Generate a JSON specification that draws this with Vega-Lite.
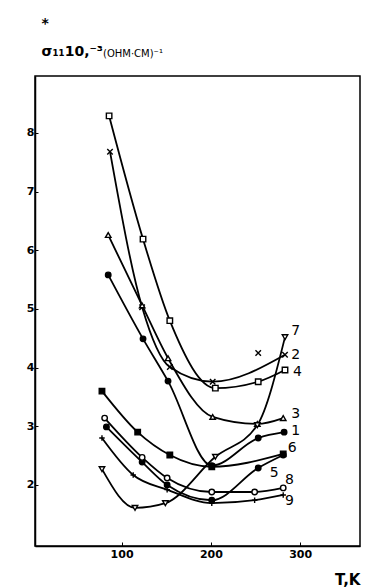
{
  "$schema": "https://vega.github.io/schema/vega-lite/v6.json",
  "autosize": {"type": "none"},
  "padding": {"left": 35, "top": 76, "right": 13, "bottom": 42},
  "width": 325,
  "height": 470,
  "background": "white",
  "config": {
    "view": {"stroke": "black", "strokeWidth": 1.5},
    "font": "DejaVu Sans",
    "axis": {"grid": false, "domainColor": "black", "domainWidth": 1.5, "tickColor": "black", "labelColor": "black", "titleColor": "black"}
  },
  "title": {
    "text": "(OHM·CM)⁻¹",
    "anchor": "start",
    "frame": "group",
    "dx": 68,
    "dy": 73,
    "offset": 20,
    "baseline": "bottom",
    "fontSize": 10,
    "fontWeight": "normal",
    "font": "DejaVu Sans",
    "color": "black"
  },
  "datasets": {
    "pts": [
      {"curve": "1", "T": 85, "s": 5.58, "fit": true},
      {"curve": "1", "T": 124, "s": 4.49, "fit": true},
      {"curve": "1", "T": 152, "s": 3.77, "fit": true},
      {"curve": "1", "T": 201, "s": 2.33, "fit": true},
      {"curve": "1", "T": 253, "s": 2.8, "fit": true},
      {"curve": "1", "T": 282, "s": 2.9, "fit": true},
      {"curve": "2", "T": 87, "s": 7.68, "fit": true},
      {"curve": "2", "T": 123, "s": 5.03, "fit": true},
      {"curve": "2", "T": 154, "s": 4.01, "fit": true},
      {"curve": "2", "T": 202, "s": 3.76, "fit": true},
      {"curve": "2", "T": 253, "s": 4.25, "fit": false},
      {"curve": "2", "T": 283, "s": 4.22, "fit": true},
      {"curve": "3", "T": 85, "s": 6.26, "fit": true},
      {"curve": "3", "T": 123, "s": 5.06, "fit": true},
      {"curve": "3", "T": 152, "s": 4.16, "fit": true},
      {"curve": "3", "T": 202, "s": 3.16, "fit": true},
      {"curve": "3", "T": 252, "s": 3.04, "fit": true},
      {"curve": "3", "T": 281, "s": 3.14, "fit": true},
      {"curve": "4", "T": 86, "s": 8.29, "fit": true},
      {"curve": "4", "T": 124, "s": 6.19, "fit": true},
      {"curve": "4", "T": 154, "s": 4.8, "fit": true},
      {"curve": "4", "T": 205, "s": 3.65, "fit": true},
      {"curve": "4", "T": 253, "s": 3.76, "fit": true},
      {"curve": "4", "T": 283, "s": 3.96, "fit": true},
      {"curve": "5", "T": 83, "s": 2.99, "fit": true},
      {"curve": "5", "T": 123, "s": 2.39, "fit": true},
      {"curve": "5", "T": 151, "s": 2.0, "fit": true},
      {"curve": "5", "T": 201, "s": 1.74, "fit": true},
      {"curve": "5", "T": 253, "s": 2.29, "fit": true},
      {"curve": "5", "T": 281, "s": 2.51, "fit": true},
      {"curve": "6", "T": 78, "s": 3.6, "fit": true},
      {"curve": "6", "T": 118, "s": 2.9, "fit": true},
      {"curve": "6", "T": 154, "s": 2.51, "fit": true},
      {"curve": "6", "T": 201, "s": 2.31, "fit": true},
      {"curve": "6", "T": 281, "s": 2.53, "fit": true},
      {"curve": "7", "T": 78, "s": 2.27, "fit": true},
      {"curve": "7", "T": 115, "s": 1.61, "fit": true},
      {"curve": "7", "T": 149, "s": 1.69, "fit": true},
      {"curve": "7", "T": 205, "s": 2.48, "fit": true},
      {"curve": "7", "T": 252, "s": 3.02, "fit": true},
      {"curve": "7", "T": 283, "s": 4.52, "fit": true},
      {"curve": "8", "T": 81, "s": 3.14, "fit": true},
      {"curve": "8", "T": 123, "s": 2.47, "fit": true},
      {"curve": "8", "T": 151, "s": 2.12, "fit": true},
      {"curve": "8", "T": 201, "s": 1.88, "fit": true},
      {"curve": "8", "T": 249, "s": 1.88, "fit": true},
      {"curve": "8", "T": 281, "s": 1.95, "fit": true},
      {"curve": "9", "T": 78, "s": 2.8, "fit": true},
      {"curve": "9", "T": 113, "s": 2.17, "fit": true},
      {"curve": "9", "T": 151, "s": 1.92, "fit": true},
      {"curve": "9", "T": 201, "s": 1.69, "fit": true},
      {"curve": "9", "T": 249, "s": 1.74, "fit": true},
      {"curve": "9", "T": 281, "s": 1.83, "fit": true}
    ],
    "labels": [
      {"curve": "1", "T": 290, "s": 2.92},
      {"curve": "2", "T": 290, "s": 4.22},
      {"curve": "3", "T": 290, "s": 3.21},
      {"curve": "4", "T": 292, "s": 3.93},
      {"curve": "5", "T": 266, "s": 2.2},
      {"curve": "6", "T": 286, "s": 2.63},
      {"curve": "7", "T": 290, "s": 4.62},
      {"curve": "8", "T": 283, "s": 2.09},
      {"curve": "9", "T": 283, "s": 1.73}
    ]
  },
  "encoding": {
    "x": {
      "field": "T", "type": "quantitative",
      "scale": {"domain": [3, 367], "nice": false, "zero": false},
      "axis": {
        "values": [100, 200, 300],
        "tickSize": -4,
        "labelFontSize": 11,
        "labelFontWeight": "bold",
        "labelPadding": 6,
        "title": "T,K",
        "titleFontSize": 15,
        "titleFontWeight": "bold",
        "titleAnchor": "end",
        "titleAlign": "right",
        "titleX": 325,
        "titleY": 38,
        "titleBaseline": "alphabetic"
      }
    },
    "y": {
      "field": "s", "type": "quantitative",
      "scale": {"domain": [0.96, 8.97], "nice": false, "zero": false},
      "axis": {
        "values": [2, 3, 4, 5, 6, 7, 8],
        "tickSize": -3,
        "labelFontSize": 11,
        "labelFontWeight": "bold",
        "labelPadding": 4,
        "title": ["*", "σ₁₁10,⁻³"],
        "titleAngle": 0,
        "titleFontSize": 14,
        "titleFontWeight": "bold",
        "titleAlign": "left",
        "titleBaseline": "bottom",
        "titleLineHeight": 28,
        "titleX": 6,
        "titleY": -46
      }
    }
  },
  "layer": [
    {
      "data": {"name": "pts"},
      "transform": [{"filter": "datum.fit"}],
      "mark": {"type": "line", "interpolate": "monotone", "color": "black", "strokeWidth": 1.8},
      "encoding": {"detail": {"field": "curve"}}
    },
    {
      "data": {"name": "pts"},
      "mark": {"type": "point", "filled": false, "stroke": "black", "strokeWidth": 1.4, "opacity": 1, "size": 30},
      "encoding": {
        "shape": {
          "field": "curve", "type": "nominal", "legend": null,
          "scale": {
            "domain": ["1", "2", "3", "4", "5", "6", "7", "8", "9"],
            "range": ["circle", "M-1,-1L1,1M-1,1L1,-1", "triangle-up", "square", "circle", "square", "triangle-down", "circle", "M-1,0L1,0M0,-1L0,1"]
          }
        },
        "fill": {
          "field": "curve", "type": "nominal", "legend": null,
          "scale": {
            "domain": ["1", "2", "3", "4", "5", "6", "7", "8", "9"],
            "range": ["black", "black", "white", "white", "black", "black", "white", "white", "black"]
          }
        }
      }
    },
    {
      "data": {"name": "labels"},
      "mark": {"type": "text", "align": "left", "baseline": "middle", "fontSize": 14, "font": "DejaVu Sans", "color": "black"},
      "encoding": {"text": {"field": "curve"}}
    }
  ]
}
